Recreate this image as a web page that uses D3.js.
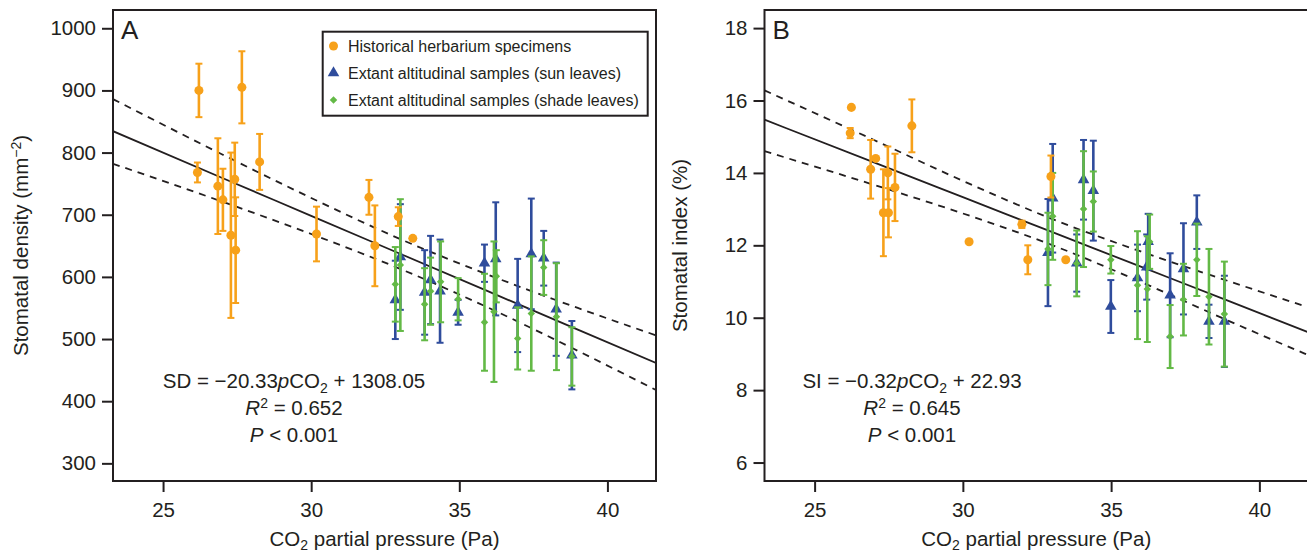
<!DOCTYPE html>
<html>
<head>
<meta charset="utf-8">
<script src="https://cdn.jsdelivr.net/npm/d3@7"></script>
<style>
  body { margin: 0; background: #fff; }
  text { font-family: "Liberation Sans", Arial, sans-serif; fill: #231f20; }
</style>
</head>
<body>
<svg id="chart" width="1307" height="555"></svg>
<script>
// ---- data: [pCO2, value, error] ----
const herbA = [[26.21,900,43],[27.66,905,58],[26.16,768,16],[26.85,746,77],[27.02,724,50],[27.42,757,59],
  [27.29,667,133],[27.45,643,85],[28.26,785,45],[30.18,669,44],[31.95,728,28],[32.15,650,65],[32.94,697,15],[33.43,662,0]];
const sunA = [[32.84,563,63],[33.01,632,85],[33.83,575,68],[34.03,595,71],[34.35,577,83],[34.96,543,20],[35.85,622,30],
  [36.23,629,91],[36.97,554,75],[37.43,637,89],[37.85,630,44],[38.27,548,75],[38.8,474,55]];
const shadeA = [[32.84,588,60],[33.01,619,106],[33.83,556,58],[34.03,577,54],[34.37,592,65],[34.96,564,34],[35.85,527,78],
  [36.25,601,42],[36.17,544,113],[36.97,501,50],[37.43,541,92],[37.85,615,44],[38.28,536,86],[38.8,472,47]];

const herbB = [[26.24,15.81,0],[26.2,15.1,0.14],[27.06,14.4,0],[26.89,14.1,0.81],[27.47,14.0,0.73],[27.71,13.6,0.93],
  [27.32,12.9,1.2],[27.49,12.9,0.68],[28.28,15.3,0.73],[30.21,12.1,0],[31.99,12.58,0.1],[32.19,11.6,0.4],[32.97,13.9,0.58],[33.47,11.6,0]];
const sunB = [[32.87,11.8,1.48],[33.03,13.3,1.5],[33.84,11.51,0.79],[34.07,13.81,1.1],[34.4,13.51,1.38],[34.99,10.31,0.73],
  [35.89,11.1,0.92],[36.25,12.1,0.77],[36.2,11.4,0.9],[36.99,10.62,1.16],[37.44,11.35,1.26],[37.89,12.64,0.74],[38.3,9.9,0.46],[38.82,9.9,1.26]];
const shadeB = [[32.87,11.9,1.0],[33.03,12.8,1.2],[33.84,11.5,0.91],[34.07,13.0,1.6],[34.4,13.21,0.83],[34.99,11.6,0.38],
  [35.89,10.9,1.49],[36.22,10.79,1.46],[36.3,12.1,0.75],[36.99,9.48,0.87],[37.44,10.5,0.99],[37.89,11.6,1.0],[38.3,10.58,1.32],[38.82,10.1,1.45]];

// regression line and confidence band
const bandX = [23.31, 27, 30, 33, 36, 39, 41.64];
const fitA = [834.4, 759.1, 698.2, 637.2, 576.2, 515.2, 461.5];
const upperA = [886, 797, 727, 661, 603, 550, 506];
const lowerA = [782, 721, 669, 613, 550, 481, 418];
const fitB = [15.47, 14.29, 13.33, 12.37, 11.41, 10.45, 9.6];
const upperB = [16.28, 14.91, 13.78, 12.73, 11.83, 11.0, 10.29];
const lowerB = [14.6, 13.67, 12.88, 12.01, 10.99, 9.9, 8.97];

const xTicks = [25, 30, 35, 40];
const yTicksA = [300, 400, 500, 600, 700, 800, 900, 1000];
const yTicksB = [6, 8, 10, 12, 14, 16, 18];

const legendLabels = ["Historical herbarium specimens", "Extant altitudinal samples (sun leaves)", "Extant altitudinal samples (shade leaves)"];

const ORANGE = "#f7a11a", BLUE = "#2f4c9c", GREEN = "#63b946", INK = "#231f20";
const FS = "20.5px", SUB = "14px";

const svg = d3.select("#chart");

const symCircle = d3.symbol().type(d3.symbolCircle).size(64);
const symTri = d3.symbol().type(d3.symbolTriangle).size(58);
const symDiamond = d3.symbol().type(d3.symbolSquare).size(28);

function drawPanel(p) {
  const x = d3.scaleLinear().domain([23.31, 41.64]).range([p.left, p.right]);
  const y = d3.scaleLinear().domain(p.yDomain).range([481, 10]);
  const g = svg.append("g");

  // clip for lines
  g.append("clipPath").attr("id", "clip" + p.letter)
    .append("rect").attr("x", p.left).attr("y", 10).attr("width", p.right - p.left).attr("height", 471);

  // bands and fit
  const line = d3.line().x(d => x(d[0])).y(d => y(d[1])).curve(d3.curveMonotoneX);
  const lines = g.append("g").attr("clip-path", `url(#clip${p.letter})`);
  [[p.upper, "7,6"], [p.lower, "7,6"], [p.fit, null]].forEach(([vals, dash]) => {
    lines.append("path")
      .datum(bandX.map((v, i) => [v, vals[i]]))
      .attr("d", line)
      .attr("fill", "none")
      .attr("stroke", INK)
      .attr("stroke-width", 1.8)
      .attr("stroke-dasharray", dash);
  });

  // series: error bars then markers
  const series = [
    { data: p.sun, color: BLUE, sym: symTri, rot: 0 },
    { data: p.shade, color: GREEN, sym: symDiamond, rot: 45 },
    { data: p.herb, color: ORANGE, sym: symCircle, rot: 0 }
  ];
  series.forEach(s => {
    const sg = g.append("g");
    const eb = sg.selectAll(".eb").data(s.data.filter(d => d[2] > 0)).enter().append("g");
    eb.append("line")
      .attr("x1", d => x(d[0])).attr("x2", d => x(d[0]))
      .attr("y1", d => y(d[1] - d[2])).attr("y2", d => y(d[1] + d[2]))
      .attr("stroke", s.color).attr("stroke-width", 2.6);
    [-1, 1].forEach(k => {
      eb.append("line")
        .attr("x1", d => x(d[0]) - 3.5).attr("x2", d => x(d[0]) + 3.5)
        .attr("y1", d => y(d[1] + k * d[2])).attr("y2", d => y(d[1] + k * d[2]))
        .attr("stroke", s.color).attr("stroke-width", 2);
    });
    sg.selectAll(".pt").data(s.data).enter().append("path")
      .attr("d", s.sym())
      .attr("transform", d => `translate(${x(d[0])},${y(d[1])}) rotate(${s.rot})`)
      .attr("fill", s.color);
  });

  // frame
  g.append("rect")
    .attr("x", p.left).attr("y", 10).attr("width", p.right - p.left).attr("height", 471)
    .attr("fill", "none").attr("stroke", INK).attr("stroke-width", 2);

  // axes
  const xa = g.append("g").attr("transform", "translate(0,481)")
    .call(d3.axisBottom(x).tickValues(xTicks).tickSize(11).tickPadding(10).tickFormat(d3.format("d")));
  const ya = g.append("g").attr("transform", `translate(${p.left},0)`)
    .call(d3.axisLeft(y).tickValues(p.yTicks).tickSize(11).tickPadding(6).tickFormat(d3.format("d")));
  [xa, ya].forEach(a => {
    a.select(".domain").remove();
    a.selectAll("line").attr("stroke", INK).attr("stroke-width", 2);
    a.selectAll("text").style("font-size", FS).attr("fill", INK);
  });

  // axis titles
  const xt = g.append("text").attr("x", (p.left + p.right) / 2).attr("y", 546)
    .attr("text-anchor", "middle").style("font-size", FS);
  xt.append("tspan").text("CO");
  xt.append("tspan").attr("dy", 4).style("font-size", SUB).text("2");
  xt.append("tspan").attr("dy", -4).text(" partial pressure (Pa)");

  const yt = g.append("text")
    .attr("transform", `translate(${p.titleX},245.5) rotate(-90)`)
    .attr("text-anchor", "middle").style("font-size", FS);
  yt.append("tspan").text(p.yTitle);
  if (p.letter === "A") {
    yt.append("tspan").attr("dy", -7).style("font-size", SUB).text("\u22122");
    yt.append("tspan").attr("dy", 7).text(")");
  }

  // panel letter
  g.append("text").attr("x", p.left + 8).attr("y", 39).style("font-size", "26px").text(p.letter);

  // equation block
  const eq = g.append("text").attr("x", p.eqX).attr("y", 388).attr("text-anchor", "middle").style("font-size", FS);
  eq.append("tspan").text(p.eq[0] + " = \u2212" + p.eq[1]);
  eq.append("tspan").style("font-style", "italic").text("p");
  eq.append("tspan").text("CO");
  eq.append("tspan").attr("dy", 5).style("font-size", SUB).text("2");
  eq.append("tspan").attr("dy", -5).text(" + " + p.eq[2]);

  const r2 = g.append("text").attr("x", p.eqX).attr("y", 415).attr("text-anchor", "middle").style("font-size", FS);
  r2.append("tspan").style("font-style", "italic").text("R");
  r2.append("tspan").attr("dy", -7).style("font-size", SUB).text("2");
  r2.append("tspan").attr("dy", 7).text(" = " + p.r2);

  const pv = g.append("text").attr("x", p.eqX).attr("y", 442).attr("text-anchor", "middle").style("font-size", FS);
  pv.append("tspan").style("font-style", "italic").text("P");
  pv.append("tspan").text(" < 0.001");
}

drawPanel({ letter: "A", left: 113, right: 656, yDomain: [271.6, 1029.4], yTicks: yTicksA,
  herb: herbA, sun: sunA, shade: shadeA, fit: fitA, upper: upperA, lower: lowerA,
  yTitle: "Stomatal density (mm", titleX: 28, eqX: 294, eq: ["SD", "20.33", "1308.05"], r2: "0.652" });

drawPanel({ letter: "B", left: 764.5, right: 1308, yDomain: [5.49, 18.5], yTicks: yTicksB,
  herb: herbB, sun: sunB, shade: shadeB, fit: fitB, upper: upperB, lower: lowerB,
  yTitle: "Stomatal index (%)", titleX: 687, eqX: 912, eq: ["SI", "0.32", "22.93"], r2: "0.645" });

// legend in panel A
const lg = svg.append("g");
lg.append("rect").attr("x", 322.7).attr("y", 31.7).attr("width", 325).attr("height", 84)
  .attr("fill", "#fff").attr("stroke", INK).attr("stroke-width", 2);
const legendSyms = [[symCircle, ORANGE, 0], [symTri, BLUE, 0], [symDiamond, GREEN, 45]];
legendLabels.forEach((t, i) => {
  const cy = 46 + i * 27;
  lg.append("path").attr("d", legendSyms[i][0]())
    .attr("transform", `translate(333.5,${cy}) rotate(${legendSyms[i][2]})`)
    .attr("fill", legendSyms[i][1]);
  lg.append("text").attr("x", 348).attr("y", cy).attr("dy", "0.35em").style("font-size", "16px").text(t);
});
</script>
</body>
</html>
